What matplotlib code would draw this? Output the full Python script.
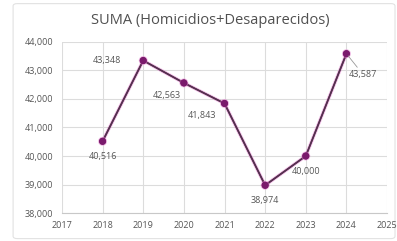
import matplotlib.pyplot as plt
import matplotlib.patheffects as pe
from matplotlib.patches import FancyBboxPatch

plt.rcParams['font.family'] = ['Open Sans', 'DejaVu Sans']

# Datos
years = [2018, 2019, 2020, 2021, 2022, 2023, 2024]
totals = [40516, 43348, 42563, 41843, 38974, 40000, 43587]
x_ticks = list(range(2017, 2026))
y_ticks = list(range(38000, 44001, 1000))

# offsets de etiquetas (puntos)
label_offsets = [(0, -11), (-26, 0), (-12, -9), (-16, -9), (0, -11), (0, -11), (12, -15)]

LINE = '#55304f'
MARK = '#7a1a6c'
GLOW = '#e07ccb'
TXT = '#555555'
GRID = '#dcdcdc'

fig = plt.figure(figsize=(3.97, 2.41), dpi=100, facecolor='white')
frame = FancyBboxPatch((0.033, 0.01), 0.962, 0.975, boxstyle='round,pad=0,rounding_size=0.01',
                       transform=fig.transFigure, facecolor='none',
                       edgecolor='#e2e2e2', linewidth=0.8, zorder=-5)
fig.patches.append(frame)
ax = fig.add_axes([0.156, 0.116, 0.819, 0.71])
ax.set_facecolor('none')

ax.plot(years, totals, color=LINE, linewidth=1.1, marker='o', markersize=4,
        markerfacecolor=MARK, markeredgecolor=MARK, zorder=3,
        path_effects=[pe.withStroke(linewidth=2.4, foreground=GLOW, alpha=0.55), pe.Normal()])

for x, y, (dx, dy) in zip(years, totals, label_offsets):
    arrow = None
    if x == 2024:
        arrow = dict(arrowstyle='-', color='#999999', linewidth=0.6, shrinkA=0, shrinkB=2)
    ax.annotate(f'{y:,}', (x, y), xytext=(dx, dy), textcoords='offset points',
                ha='center', va='center', fontsize=6.5, color=TXT, arrowprops=arrow)

ax.set_xlim(2017, 2025)
ax.set_ylim(38000, 44000)
ax.set_xticks(x_ticks)
ax.set_yticks(y_ticks)
ax.set_yticklabels([f'{t:,}' for t in y_ticks])
ax.tick_params(length=0, labelsize=6.5, colors=TXT, pad=6)
ax.grid(True, color=GRID, linewidth=0.8)
ax.set_axisbelow(True)
for s in ['top', 'right', 'left']:
    ax.spines[s].set_visible(False)
ax.spines['bottom'].set_color('#c8c8c8')

fig.text(0.53, 0.915, 'SUMA (Homicidios+Desaparecidos)', ha='center', va='center',
         fontsize=10.5, color='#505050')

fig.savefig('out.png', dpi=100, facecolor='white')
